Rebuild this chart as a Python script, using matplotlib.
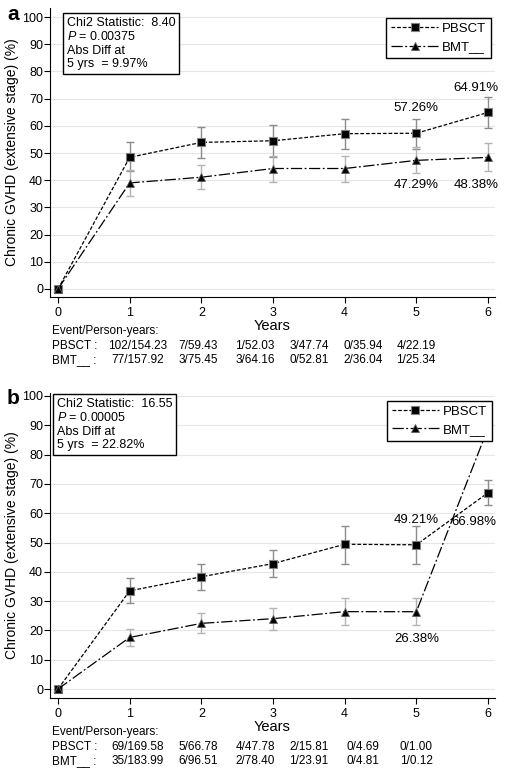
import numpy as np
import matplotlib.pyplot as plt

plt.rcParams['font.family'] = ['Liberation Sans', 'DejaVu Sans']
plt.rcParams['mathtext.fontset'] = 'custom'
plt.rcParams['mathtext.it'] = 'Liberation Sans:italic'
plt.rcParams['mathtext.rm'] = 'Liberation Sans'

years = [0, 1, 2, 3, 4, 5, 6]
nan = np.nan

# Panel a
a_pbsct = [0, 48.4, 53.9, 54.5, 57.1, 57.26, 64.91]
a_pbsct_lo = [nan, 43.3, 48.1, 48.6, 51.5, 51.5, 59.1]
a_pbsct_hi = [nan, 54.1, 59.6, 60.4, 62.6, 62.6, 70.5]
a_bmt = [0, 39.0, 41.1, 44.3, 44.3, 47.29, 48.38]
a_bmt_lo = [nan, 34.2, 36.6, 39.5, 39.5, 42.6, 43.2]
a_bmt_hi = [nan, 43.6, 45.6, 49.0, 49.0, 52.3, 53.7]
a_pbsct_events = ['102/154.23', '7/59.43', '1/52.03', '3/47.74', '0/35.94', '4/22.19']
a_bmt_events = ['77/157.92', '3/75.45', '3/64.16', '0/52.81', '2/36.04', '1/25.34']
a_stats = ['8.40', '0.00375', '9.97%']

# Panel b
b_pbsct = [0, 33.5, 38.3, 42.8, 49.4, 49.21, 66.98]
b_pbsct_lo = [nan, 29.2, 33.9, 38.1, 42.8, 42.8, 62.9]
b_pbsct_hi = [nan, 38.0, 42.8, 47.6, 55.6, 55.6, 71.2]
b_bmt = [0, 17.6, 22.4, 24.0, 26.4, 26.38, 89.0]
b_bmt_lo = [nan, 14.6, 19.0, 20.0, 21.9, 21.9, nan]
b_bmt_hi = [nan, 20.4, 25.9, 27.6, 31.1, 31.1, nan]
b_pbsct_events = ['69/169.58', '5/66.78', '4/47.78', '2/15.81', '0/4.69', '0/1.00']
b_bmt_events = ['35/183.99', '6/96.51', '2/78.40', '1/23.91', '0/4.81', '1/0.12']
b_stats = ['16.55', '0.00005', '22.82%']

W, H = 505, 778
fig = plt.figure(figsize=(W / 100, H / 100), dpi=100)


def fx(x):
    return x / W


def fy(y):
    return 1 - y / H


def draw_panel(letter, top, bottom, y0, y100, pb, pb_lo, pb_hi, bm, bm_lo, bm_hi,
               pb_ev, bm_ev, stats, stats_box, legend_anchor, labels):
    ax = fig.add_axes([fx(50), fy(bottom), fx(445), (bottom - top) / H])
    ppu = (y0 - y100) / 100.0
    ax.set_ylim(-(bottom - y0) / ppu, 100 + (y100 - top) / ppu)
    ax.set_xlim(-8 / 71.67, 6 + 7 / 71.67)
    ax.set_yticks(range(0, 101, 10))
    ax.set_xticks(years)
    ax.yaxis.grid(True, color='#e6e6e6', lw=0.8)
    ax.set_axisbelow(True)
    for s in ['top', 'right']:
        ax.spines[s].set_visible(False)
    ax.tick_params(length=4, width=0.8, labelsize=9, colors='black', pad=1)
    ax.tick_params(axis='x', pad=3.5)
    ax.set_xlabel('Years', fontsize=10.5, labelpad=0)
    ax.set_ylabel('Chronic GVHD (extensive stage) (%)', fontsize=10, labelpad=2)

    pb = np.array(pb)
    bm = np.array(bm)
    ax.errorbar(years, pb, yerr=[pb - np.array(pb_lo), np.array(pb_hi) - pb],
                fmt='none', ecolor='#8c8c8c', elinewidth=1.0, capsize=3, capthick=1.0)
    ax.errorbar(years, bm, yerr=[bm - np.array(bm_lo), np.array(bm_hi) - bm],
                fmt='none', ecolor='#b4b4b4', elinewidth=1.0, capsize=3, capthick=1.0)
    ax.plot(years, pb, color='black', lw=0.9, ls=(0, (3, 1.5)), marker='s', ms=5.5,
            mfc='black', mec='#808080', mew=0.8, label='PBSCT')
    ax.plot(years, bm, color='black', lw=0.9, ls=(0, (9, 2, 1.5, 2)), marker='^', ms=6,
            mfc='black', mec='#606060', mew=0.6, label='BMT__')

    leg = ax.legend(loc='upper right', bbox_to_anchor=legend_anchor, fontsize=9.5,
                    frameon=True, fancybox=False, edgecolor='black', framealpha=1,
                    handlelength=3.6, handletextpad=0.3, borderpad=0.35,
                    labelspacing=0.45, borderaxespad=0)
    leg.get_frame().set_linewidth(1.0)
    leg.set_zorder(10)

    for x, y, t in labels:
        ax.text(x, y, t, ha='center', va='center', fontsize=9.5)

    txt = ('Chi2 Statistic:  ' + stats[0] + '\n$P$ = ' + stats[1] +
           '\nAbs Diff at\n5 yrs  = ' + stats[2])
    fig.text(fx(stats_box[0]), fy(stats_box[1]), txt, ha='left', va='top',
             fontsize=9, linespacing=1.15,
             bbox=dict(boxstyle='square,pad=0.3', fc='white', ec='black', lw=1.0))

    fig.text(fx(7), fy(top + 6), letter, fontsize=15, fontweight='bold', va='center')

    # event / person-years table under the axis
    ty = bottom + 34
    fig.text(fx(52), fy(ty), 'Event/Person-years:', fontsize=8.5, va='center')
    fig.text(fx(52), fy(ty + 15), 'PBSCT :', fontsize=8.5, va='center')
    fig.text(fx(52), fy(ty + 29), 'BMT__ :', fontsize=8.5, va='center')
    cols = [138, 198, 255, 309, 363, 416]
    for cx, e1, e2 in zip(cols, pb_ev, bm_ev):
        fig.text(fx(cx), fy(ty + 15), e1, fontsize=8.5, ha='center', va='center')
        fig.text(fx(cx), fy(ty + 29), e2, fontsize=8.5, ha='center', va='center')
    return ax


draw_panel('a', 8, 297, 289, 17, a_pbsct, a_pbsct_lo, a_pbsct_hi,
           a_bmt, a_bmt_lo, a_bmt_hi, a_pbsct_events, a_bmt_events, a_stats,
           (67, 17), (0.991, 0.965),
           [(5.0, 66.5, f'{a_pbsct[5]:.2f}%'), (5.83, 73.9, f'{a_pbsct[6]:.2f}%'),
            (5.0, 38.2, f'{a_bmt[5]:.2f}%'), (5.83, 38.2, f'{a_bmt[6]:.2f}%')])

draw_panel('b', 393, 698, 689, 396, b_pbsct, b_pbsct_lo, b_pbsct_hi,
           b_bmt, b_bmt_lo, b_bmt_hi, b_pbsct_events, b_bmt_events, b_stats,
           (57, 398), (0.993, 0.974),
           [(5.0, 57.7, f'{b_pbsct[5]:.2f}%'), (5.8, 57.0, f'{b_pbsct[6]:.2f}%'),
            (5.0, 17.1, f'{b_bmt[5]:.2f}%')])

fig.savefig('out.png', dpi=100)
